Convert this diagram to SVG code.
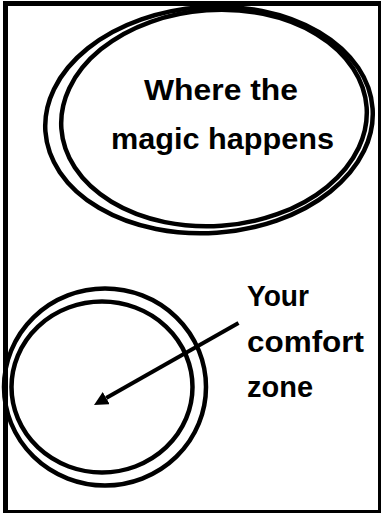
<svg xmlns="http://www.w3.org/2000/svg" width="381" height="514" viewBox="0 0 381 514">
  <style>
    .ring { fill: none; stroke: #000; stroke-width: 4.5; }
    .lbl { font-family: "Liberation Sans", Arial, sans-serif; font-weight: bold; font-size: 30px; fill: #000; }
    .conn { stroke: #000; stroke-width: 4; fill: none; }
  </style>
  <defs>
    <marker id="arrowhead" viewBox="0 0 14 14" refX="0" refY="7" markerWidth="14" markerHeight="14" markerUnits="userSpaceOnUse" orient="auto">
      <path d="M0,0 L14,7 L0,14 Z" fill="#000"/>
    </marker>
  </defs>
  <rect width="381" height="514" fill="#fff"/>

  <g id="magic">
    <ellipse class="ring" cx="209" cy="120" rx="164" ry="113" transform="rotate(-4 209 120)"/>
    <ellipse class="ring" cx="214" cy="118" rx="153" ry="108" transform="rotate(-4 214 118)"/>
    <text class="lbl" x="144" y="100" textLength="154" lengthAdjust="spacingAndGlyphs">Where the</text>
    <text class="lbl" x="111" y="148.5" textLength="223" lengthAdjust="spacingAndGlyphs">magic happens</text>
  </g>

  <g id="comfort">
    <ellipse class="ring" cx="105" cy="387" rx="101" ry="98.5"/>
    <ellipse class="ring" cx="102" cy="387" rx="90.5" ry="85.5"/>
  </g>

  <g id="comfort-label">
    <text class="lbl" x="247" y="306" textLength="62" lengthAdjust="spacingAndGlyphs">Your</text>
    <text class="lbl" x="247" y="352" textLength="117" lengthAdjust="spacingAndGlyphs">comfort</text>
    <text class="lbl" x="247" y="397" textLength="66" lengthAdjust="spacingAndGlyphs">zone</text>
  </g>

  <g id="connectors">
    <line class="conn" x1="238.5" y1="323" x2="106.2" y2="398.1" marker-end="url(#arrowhead)"/>
  </g>

  <g id="frame">
    <path d="M3,1 H381 V513 H3 Z M8,6 V510 H378 V6 Z" fill="#000" fill-rule="evenodd"/>
  </g>
</svg>
